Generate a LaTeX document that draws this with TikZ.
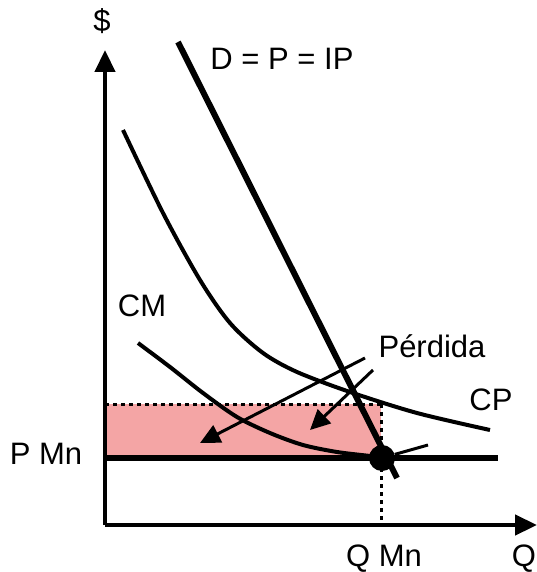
\documentclass[tikz,border=0pt]{standalone}
\usepackage{fontspec}
\setmainfont{Liberation Sans}
\usetikzlibrary{arrows.meta,positioning}
\definecolor{losspink}{RGB}{244,165,165}

\begin{document}
\begin{tikzpicture}[
  x=1pt, y=-1pt,
  lbl/.style={font=\fontsize{31}{36}\selectfont, inner sep=0pt, anchor=base},
  axis/.style={line width=4.5pt, -{Triangle[length=22pt,width=20pt]}},
  curve/.style={line width=4pt},
  bold/.style={line width=6pt},
  guide/.style={line width=3pt, dash pattern=on 4pt off 4pt},
  pointer/.style={line width=3pt, -{Triangle[length=20pt,width=19pt]}},
  eqdot/.style={circle, fill=black, minimum size=26pt, inner sep=0pt}
]
\useasboundingbox (0,0) rectangle (537,572);

% axes and key points
\coordinate (O) at (105,525);
\coordinate (ytop) at (105,50);
\coordinate (xend) at (537,525);
\coordinate (pleft) at (105,458);
\coordinate (pright) at (498,458);
\coordinate (cleft) at (105,404);
\coordinate (ctop) at (381,404);
\coordinate (qfoot) at (381,525);

% loss area
\fill[losspink] (cleft) rectangle (381,458);
\draw[guide] (cleft) -- (ctop);
\draw[guide] (ctop) -- (qfoot);

% cost curves
\draw[curve] plot[smooth, tension=0.5] coordinates
  {(123,130) (163,213) (200,280) (230,323) (263,353) (297,372)
   (350,392) (417,413) (490,430)};
\draw[curve] plot[smooth, tension=0.5] coordinates
  {(138,343) (170,367) (203,393) (237,417) (270,433) (303,445) (337,452)
   (370,456) (381,458)};

% demand
\coordinate (dtop) at (178,42);
\coordinate (dbot) at (397,478);
\draw[bold] (dtop) -- (dbot);

% P Mn line and axes
\draw[bold] (pleft) -- (pright);
\draw[axis] (O) -- (ytop);
\draw[axis] (O) -- (xend);

% labels
\node[lbl] (dollar) at (102,32) {\$};
\node[lbl] (dlabel) at (282,70) {D = P = IP};
\node[lbl] (cmlabel) at (142,316) {CM};
\node[lbl] (cplabel) at (491,410) {CP};
\node[lbl] (perdida) at (432,357) {Pérdida};
\node[lbl] (pmn) at (46,464) {P Mn};
\node[lbl] (qmn) at (384,566) {Q Mn};
\node[lbl] (qlabel) at (524,566) {Q};

% pointers to the loss
\coordinate (t1) at (365,358);
\coordinate (h1) at (200,443);
\coordinate (t2) at (373,370);
\coordinate (h2) at (310,430);
\coordinate (t3) at (428,445);
\draw[pointer] (t1) -- (h1);
\draw[pointer] (t2) -- (h2);

% equilibrium
\node[eqdot] (eq) at (382,458) {};
\draw[line width=3pt] (t3) -- (eq);
\end{tikzpicture}
\end{document}
